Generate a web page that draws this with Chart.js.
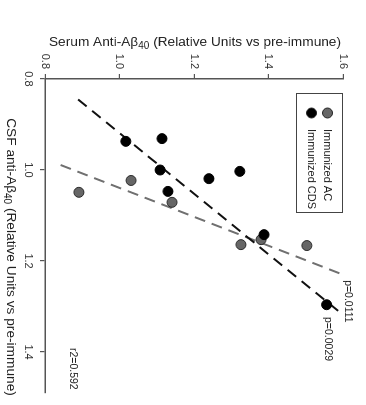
<!DOCTYPE html>
<html>
<head>
<meta charset="utf-8">
<script src="https://cdn.jsdelivr.net/npm/chart.js@4/dist/chart.umd.min.js"></script>
<style>
  html, body { margin: 0; padding: 0; background: #fff; }
  #frame { position: relative; width: 366px; height: 405px; overflow: hidden; background: #fff; }
  /* plot is drawn upright, then turned a quarter clockwise like the figure */
  #turn { position: absolute; left: 0; top: 0; width: 405px; height: 366px;
          transform-origin: 0 0; transform: translate(366px, 0) rotate(90deg); }
</style>
</head>
<body>
<div id="frame">
  <div id="turn"><canvas id="plot" width="405" height="366"></canvas></div>
</div>
<script>
// CSF anti-Abeta40 (x) vs serum anti-Abeta40 (y), relative units vs pre-immune
const cdsCsf   = [0.937, 0.931, 1.000, 1.047, 1.019, 1.003, 1.142, 1.296];
const cdsSerum = [1.017, 1.114, 1.109, 1.130, 1.240, 1.323, 1.388, 1.556];
const acCsf    = [1.049, 1.023, 1.071, 1.164, 1.153, 1.166];
const acSerum  = [0.891, 1.031, 1.141, 1.326, 1.380, 1.503];

// regression lines (end points)
const fitCdsCsf   = [0.845, 1.313];
const fitCdsSerum = [0.889, 1.592];
const fitAcCsf    = [0.989, 1.230];
const fitAcSerum  = [0.842, 1.600];

const csfTicks   = [0.8, 1.0, 1.2, 1.4];
const serumTicks = [0.8, 1.0, 1.2, 1.4, 1.6];

const seriesNames = ['Immunized AC', 'Immunized CDS'];
const notes = [
  { text: 'p=0.0111', csf: 1.242, serum: 1.613 },
  { text: 'p=0.0029', csf: 1.323, serum: 1.560 },
  { text: 'r2=0.592', csf: 1.391, serum: 0.874 }
];

const pts = (xs, ys) => xs.map((x, i) => ({ x, y: ys[i] }));
const AXIS = '#555';
const FONT = '"Liberation Sans", Arial, sans-serif';

// text with a subscript part: parts = [[text, isSub], ...]
function subText(ctx, parts, x, y) {
  const big = `13.7px ${FONT}`, small = `10px ${FONT}`;
  let w = 0;
  parts.forEach(([t, sub]) => { ctx.font = sub ? small : big; w += ctx.measureText(t).width; });
  let cx = x - w / 2;
  ctx.textAlign = 'left';
  ctx.textBaseline = 'middle';
  parts.forEach(([t, sub]) => {
    ctx.font = sub ? small : big;
    ctx.fillText(t, cx, sub ? y + 4 : y);
    cx += ctx.measureText(t).width;
  });
}

const extras = {
  id: 'extras',
  afterDraw(chart) {
    const { ctx, scales: { x, y } } = chart;
    ctx.save();
    ctx.fillStyle = '#222';

    // axis titles
    subText(ctx, [['CSF anti-A\u03B2', false], ['40', true], [' (Relative Units vs pre-immune)', false]], 257, 355);
    ctx.save();
    ctx.translate(42, 171);
    ctx.rotate(-Math.PI / 2);
    subText(ctx, [['Serum Anti-A\u03B2', false], ['40', true], [' (Relative Units vs pre-immune)', false]], 0, 0);
    ctx.restore();

    // p values and r2
    ctx.font = `10.5px ${FONT}`;
    ctx.textAlign = 'left';
    ctx.textBaseline = 'middle';
    notes.forEach(n => ctx.fillText(n.text, x.getPixelForValue(n.csf), y.getPixelForValue(n.serum)));

    // legend
    ctx.strokeStyle = '#444';
    ctx.lineWidth = 1;
    ctx.strokeRect(93.5, 23.5, 119, 46);
    const marks = [['#666', 38.5], ['#000', 54.5]];
    marks.forEach(([c, ly], i) => {
      ctx.beginPath();
      ctx.arc(113, ly, 5, 0, Math.PI * 2);
      ctx.fillStyle = c;
      ctx.fill();
      ctx.strokeStyle = '#222';
      ctx.stroke();
      ctx.fillStyle = '#222';
      ctx.font = `11px ${FONT}`;
      ctx.fillText(seriesNames[i], 129, ly);
    });
    ctx.restore();
  }
};

const axisOpts = (ticks, fit) => ({
  type: 'linear',
  afterBuildTicks: s => { s.ticks = ticks.map(v => ({ value: v })); },
  afterFit: fit,
  ticks: { font: { family: FONT, size: 11 }, color: '#333', padding: 5, callback: v => v.toFixed(1) },
  grid: { display: true, drawOnChartArea: false, drawTicks: true, tickLength: 5, color: AXIS, lineWidth: 1.2 },
  border: { display: true, color: AXIS, width: 1.5 }
});

new Chart(document.getElementById('plot'), {
  type: 'scatter',
  data: {
    datasets: [
      { label: seriesNames[1], data: pts(cdsCsf, cdsSerum), order: 0,
        backgroundColor: '#000', borderColor: '#000', pointRadius: 5, borderWidth: 1 },
      { label: seriesNames[0], data: pts(acCsf, acSerum), order: 1,
        backgroundColor: '#666', borderColor: '#2a2a2a', pointRadius: 5, borderWidth: 1 },
      { type: 'line', data: pts(fitCdsCsf, fitCdsSerum), order: 2, showLine: true,
        borderColor: '#111', borderWidth: 2, borderDash: [11, 7], pointRadius: 0, fill: false },
      { type: 'line', data: pts(fitAcCsf, fitAcSerum), order: 3, showLine: true,
        borderColor: '#707070', borderWidth: 2, borderDash: [11, 7], pointRadius: 0, fill: false }
    ]
  },
  options: {
    responsive: false,
    animation: false,
    layout: { padding: { top: 23, right: 12, left: 0, bottom: 0 } },
    plugins: { legend: { display: false }, tooltip: { enabled: false } },
    scales: {
      x: Object.assign(axisOpts(csfTicks, s => { s.height = 45; }), { position: 'bottom', min: 0.8, max: 1.49 }),
      y: Object.assign(axisOpts(serumTicks, s => { s.width = 79; }), { position: 'left', min: 0.8, max: 1.6 })
    }
  },
  plugins: [extras]
});
</script>
</body>
</html>
